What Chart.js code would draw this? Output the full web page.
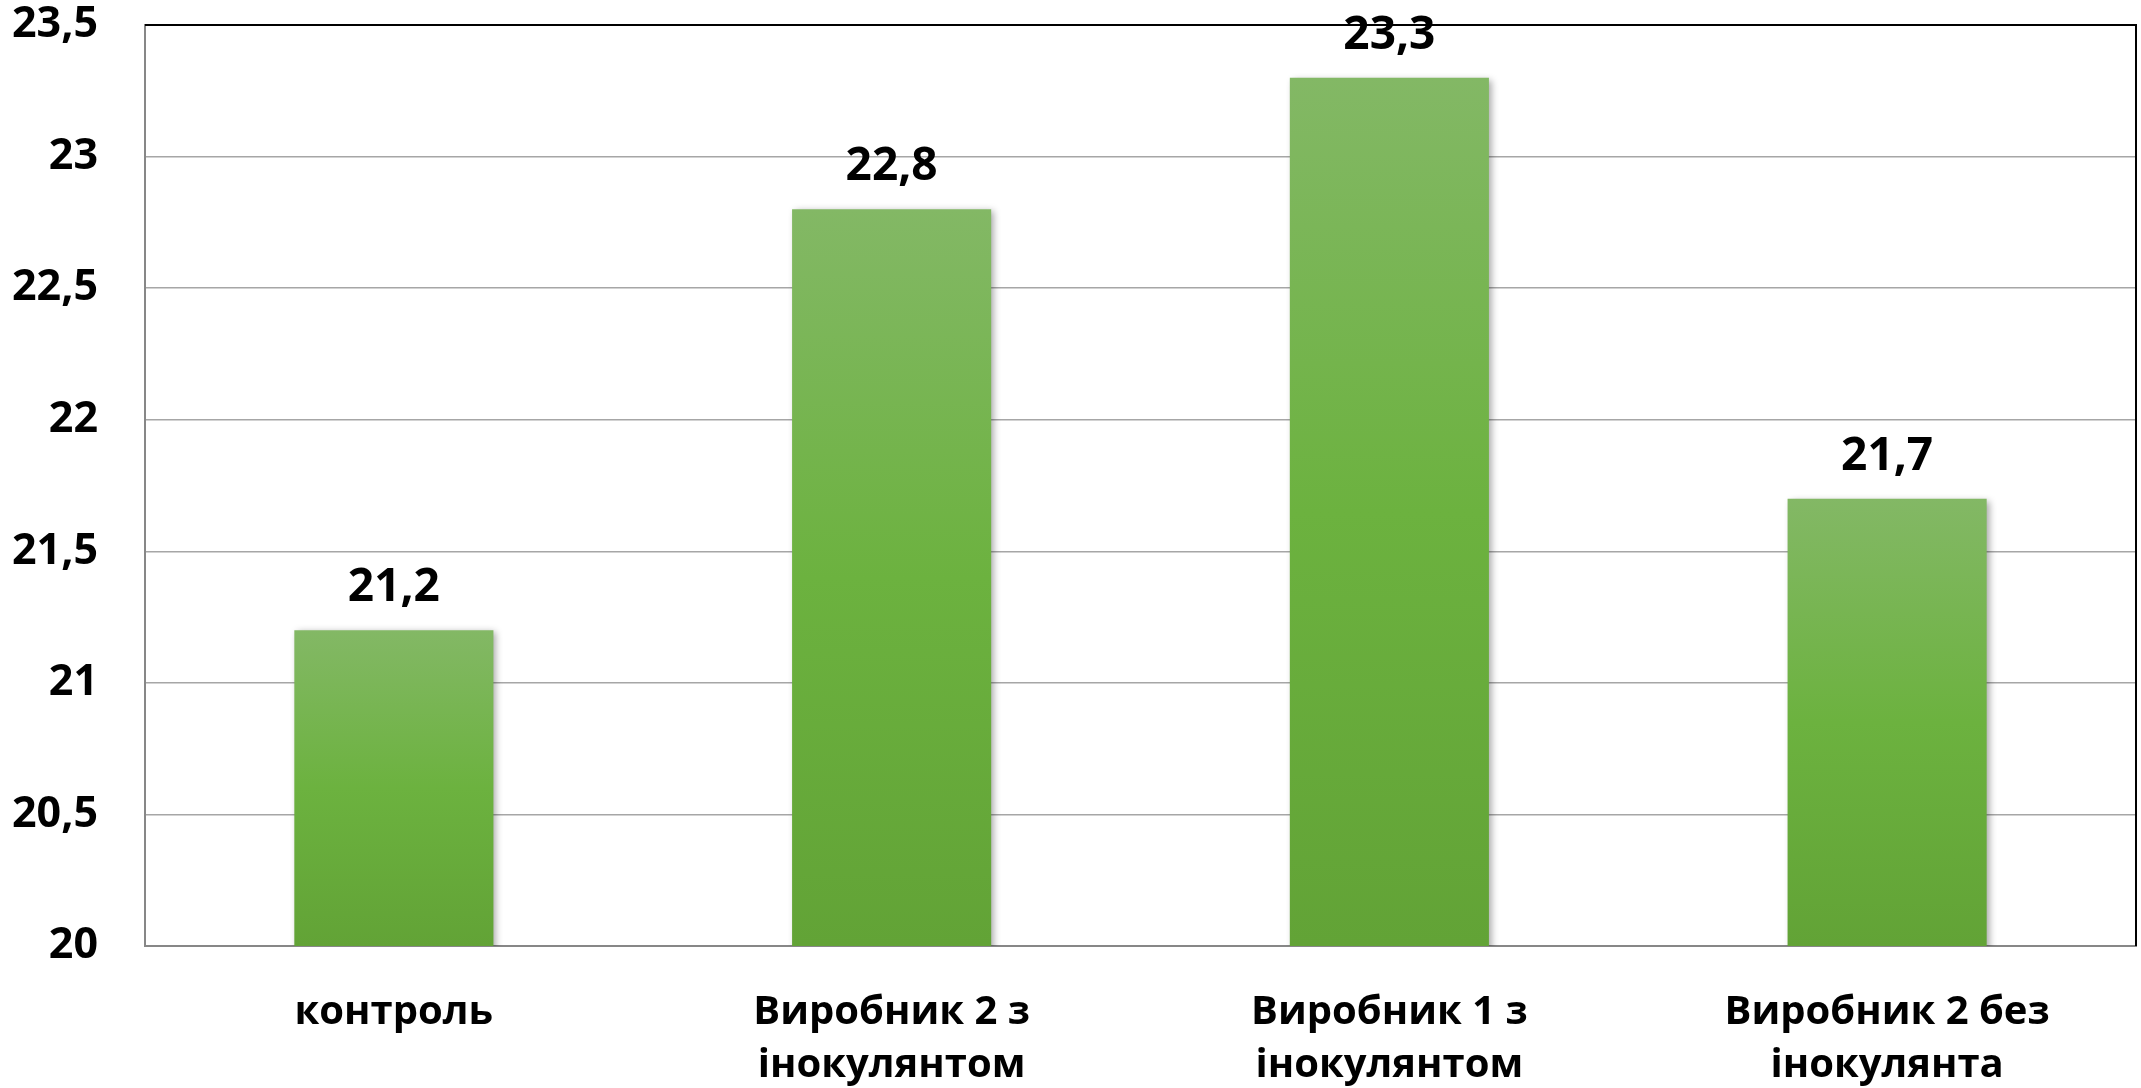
<!DOCTYPE html>
<html>
<head>
<meta charset="utf-8">
<script src="https://cdn.jsdelivr.net/npm/chart.js@4.4.1/dist/chart.umd.min.js"></script>
<style>
  html, body { margin: 0; padding: 0; background: #fff; }
  #wrap { width: 2141px; height: 1088px; }
</style>
</head>
<body>
<div id="wrap"><canvas id="chart" width="2141" height="1088"></canvas></div>
<script>
  // Дані, зчитані з діаграми
  const categories = [
    "контроль",
    ["Виробник 2 з", "інокулянтом"],
    ["Виробник 1 з", "інокулянтом"],
    ["Виробник 2 без", "інокулянта"],
  ];
  const values = [21.2, 22.8, 23.3, 21.7];
  const yMin = 20;
  const yMax = 23.5;
  const yStep = 0.5;

  const FONT = "'Open Sans', 'Noto Sans', sans-serif";
  const fmt = (v) => String(v).replace(".", ",");

  // ── Градієнт кожного стовпця (світліший угорі) ────────────────
  function barGradient(ctx) {
    const chart = ctx.chart;
    const y = chart.scales.y;
    if (!y || ctx.raw == null) return "#6cb23e";
    const top = y.getPixelForValue(ctx.raw);
    const base = y.getPixelForValue(yMin);
    if (!isFinite(top) || !isFinite(base) || top === base) return "#6cb23e";
    const g = chart.ctx.createLinearGradient(0, top, 0, base);
    g.addColorStop(0, "#83b865");
    g.addColorStop(0.5, "#6cb23f");
    g.addColorStop(1, "#62a336");
    return g;
  }

  // Тінь під стовпцями
  const barShadow = {
    id: "barShadow",
    beforeDatasetsDraw(chart) {
      const c = chart.ctx;
      c.save();
      c.shadowColor = "rgba(0,0,0,0.35)";
      c.shadowBlur = 7;
      c.shadowOffsetX = 3;
      c.shadowOffsetY = 2;
    },
    afterDatasetsDraw(chart) {
      chart.ctx.restore();
    },
  };

  // Рамка: верх і право чорні
  const frame = {
    id: "frame",
    afterDatasetsDraw(chart) {
      const { left, right, top, bottom } = chart.chartArea;
      const c = chart.ctx;
      c.save();
      c.strokeStyle = "#000";
      c.lineWidth = 2;
      c.beginPath();
      c.moveTo(left, top);
      c.lineTo(right, top);
      c.lineTo(right, bottom);
      c.stroke();
      c.restore();
    },
  };

  // Підписи значень над стовпцями
  const valueLabels = {
    id: "valueLabels",
    afterDraw(chart) {
      const c = chart.ctx;
      const meta = chart.getDatasetMeta(0);
      c.save();
      c.font = `bold 46px ${FONT}`;
      c.fillStyle = "#000";
      c.textAlign = "center";
      c.textBaseline = "middle";
      meta.data.forEach((el, i) => {
        c.fillText(fmt(values[i]), el.x, el.y - 42);
      });
      c.restore();
    },
  };

  new Chart(document.getElementById("chart"), {
    type: "bar",
    data: {
      labels: categories,
      datasets: [{
        data: values,
        backgroundColor: barGradient,
        borderWidth: 0,
        barPercentage: 0.4,
        categoryPercentage: 1,
      }],
    },
    options: {
      responsive: false,
      animation: false,
      events: [],
      layout: { padding: { top: 25, right: 5, left: 0, bottom: 0 } },
      plugins: { legend: { display: false }, tooltip: { enabled: false } },
      scales: {
        x: {
          grid: { display: false, drawTicks: false },
          border: { display: true, color: "#878787", width: 2 },
          ticks: {
            color: "#000",
            font: { family: FONT, size: 40, weight: "bold", lineHeight: "53px" },
            padding: 40,
            maxRotation: 0,
            autoSkip: false,
          },
          afterFit(axis) {
            axis.height = 142;
            axis.paddingLeft = 0;
            axis.paddingRight = 0;
          },
        },
        y: {
          min: yMin,
          max: yMax,
          grid: { color: "#a6a6a6", lineWidth: 1.5, drawTicks: false },
          border: { display: true, color: "#878787", width: 2 },
          ticks: {
            stepSize: yStep,
            color: "#000",
            font: { family: FONT, size: 43, weight: "bold", lineHeight: 1 },
            padding: 47,
            callback: (v) => fmt(v),
          },
          afterFit(axis) {
            axis.width = 145;
            axis.paddingTop = 0;
            axis.paddingBottom = 0;
          },
        },
      },
    },
    plugins: [barShadow, frame, valueLabels],
  });
</script>
</body>
</html>
